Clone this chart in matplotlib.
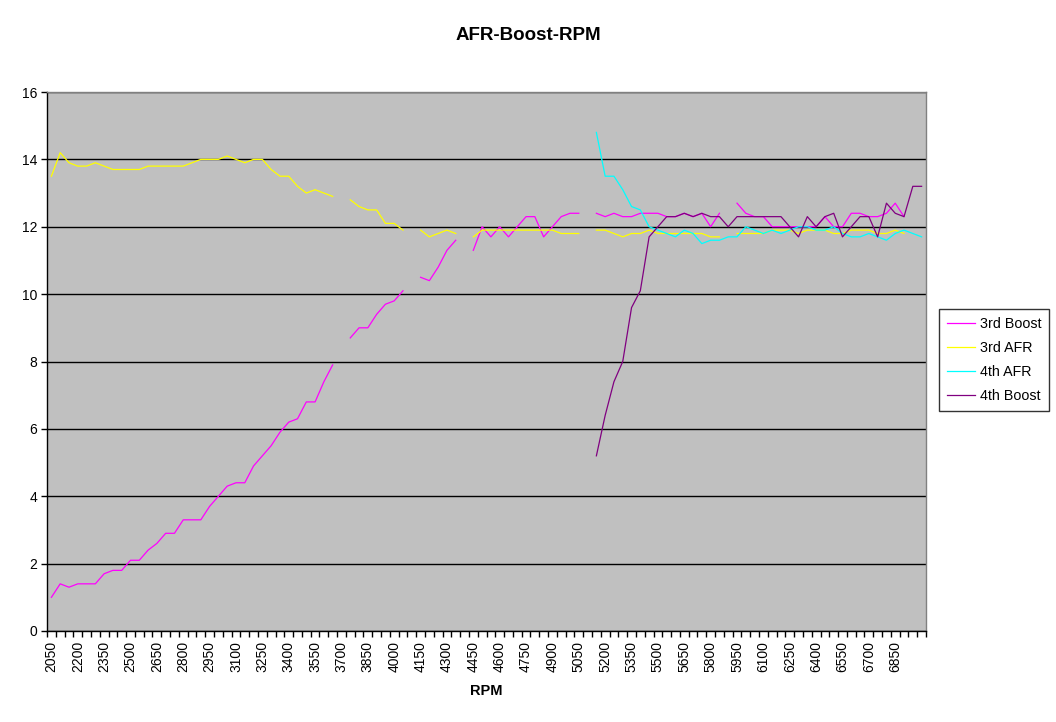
import numpy as np
import matplotlib
matplotlib.use("Agg")
import matplotlib.pyplot as plt

plt.rcParams['font.family'] = ['Liberation Sans', 'DejaVu Sans']

n = np.nan
rpm = list(range(2050, 7001, 50))

boost_3rd = [1.0, 1.4, 1.3, 1.4, 1.4, 1.4, 1.7, 1.8, 1.8, 2.1,
             2.1, 2.4, 2.6, 2.9, 2.9, 3.3, 3.3, 3.3, 3.7, 4.0,
             4.3, 4.4, 4.4, 4.9, 5.2, 5.5, 5.9, 6.2, 6.3, 6.8,
             6.8, 7.4, 7.9, n, 8.7, 9.0, 9.0, 9.4, 9.7, 9.8,
             10.1, n, 10.5, 10.4, 10.8, 11.3, 11.6, n, 11.3, 12.0,
             11.7, 12.0, 11.7, 12.0, 12.3, 12.3, 11.7, 12.0, 12.3, 12.4,
             12.4, n, 12.4, 12.3, 12.4, 12.3, 12.3, 12.4, 12.4, 12.4,
             12.3, 12.3, 12.4, 12.3, 12.4, 12.0, 12.4, n, 12.7, 12.4,
             12.3, 12.3, 12.0, 12.0, 12.0, 12.0, 12.0, 12.0, 12.3, 12.0,
             12.0, 12.4, 12.4, 12.3, 12.3, 12.4, 12.7, 12.3, n, n]

afr_3rd = [13.5, 14.2, 13.9, 13.8, 13.8, 13.9, 13.8, 13.7, 13.7, 13.7,
           13.7, 13.8, 13.8, 13.8, 13.8, 13.8, 13.9, 14.0, 14.0, 14.0,
           14.1, 14.0, 13.9, 14.0, 14.0, 13.7, 13.5, 13.5, 13.2, 13.0,
           13.1, 13.0, 12.9, n, 12.8, 12.6, 12.5, 12.5, 12.1, 12.1,
           11.9, n, 11.9, 11.7, 11.8, 11.9, 11.8, n, 11.7, 11.9,
           11.9, 11.9, 11.9, 11.9, 11.9, 11.9, 11.9, 11.9, 11.8, 11.8,
           11.8, n, 11.9, 11.9, 11.8, 11.7, 11.8, 11.8, 11.9, 11.8,
           11.8, 11.8, 11.8, 11.8, 11.8, 11.7, 11.7, n, 11.8, 11.8,
           11.8, 11.8, 11.9, 11.9, 11.9, 11.8, 11.9, 11.9, 11.9, 11.8,
           11.8, 11.9, 11.9, 11.9, 11.8, 11.8, 11.9, 11.8, n, n]

afr_4th = [n] * 62 + [
           14.8, 13.5, 13.5, 13.1, 12.6, 12.5, 12.0, 11.9,
           11.8, 11.7, 11.9, 11.8, 11.5, 11.6, 11.6, 11.7, 11.7, 12.0,
           11.9, 11.8, 11.9, 11.8, 11.9, 12.0, 12.0, 11.9, 11.9, 12.0,
           11.8, 11.7, 11.7, 11.8, 11.7, 11.6, 11.8, 11.9, 11.8, 11.7]

boost_4th = [n] * 62 + [
             5.2, 6.4, 7.4, 8.0, 9.6, 10.1, 11.7, 12.0,
             12.3, 12.3, 12.4, 12.3, 12.4, 12.3, 12.3, 12.0, 12.3, 12.3,
             12.3, 12.3, 12.3, 12.3, 12.0, 11.7, 12.3, 12.0, 12.3, 12.4,
             11.7, 12.0, 12.3, 12.3, 11.7, 12.7, 12.4, 12.3, 13.2, 13.2]

series = [("3rd Boost", boost_3rd, "#FF00FF"),
          ("3rd AFR", afr_3rd, "#FFFF00"),
          ("4th AFR", afr_4th, "#00FFFF"),
          ("4th Boost", boost_4th, "#800080")]

W, H = 1056, 722
fig = plt.figure(figsize=(W / 100, H / 100), dpi=100)
fig.patch.set_facecolor("white")
l, r, t, b = 47, 926, 92, 631
ax = fig.add_axes([l / W, 1 - b / H, (r - l) / W, (b - t) / H])
ax.set_facecolor("#C0C0C0")

x = np.arange(len(rpm))
for name, vals, col in series:
    ax.plot(x, np.array(vals, dtype=float), color=col, lw=0.9, label=name, zorder=3)

ax.set_xlim(-0.5, len(rpm) - 0.5)
ax.set_ylim(0, 16)
ax.set_yticks(np.arange(0, 17, 2))
ax.yaxis.grid(True, color="black", lw=1.0)
ax.set_axisbelow(True)
ax.tick_params(axis="y", direction="out", length=4, width=1, labelsize=10, pad=3)

major = np.arange(0, 97, 3)
ax.set_xticks(major)
ax.set_xticklabels([str(rpm[i]) for i in major], rotation=90, fontsize=10)
ax.set_xticks(np.arange(-0.5, len(rpm), 1), minor=True)
ax.tick_params(axis="x", which="major", length=0, pad=7)
ax.tick_params(axis="x", which="minor", direction="out", length=4, width=1)

for s in ["left", "bottom"]:
    ax.spines[s].set_color("black")
    ax.spines[s].set_linewidth(1.0)
for s in ["top", "right"]:
    ax.spines[s].set_color("#808080")
    ax.spines[s].set_linewidth(1.0)

ax.set_xlabel("RPM", fontsize=10.5, fontweight="bold", labelpad=9)
fig.text(0.5, 1 - 36 / H, "AFR-Boost-RPM", ha="center", va="center",
         fontsize=13.5, fontweight="bold")

leg = fig.legend(loc="center left", bbox_to_anchor=(939 / W, 1 - 360 / H),
                 fontsize=10.3, frameon=True, fancybox=False, edgecolor="black",
                 handlelength=2.0, handletextpad=0.3, labelspacing=0.72,
                 borderpad=0.55, borderaxespad=0)
leg.get_frame().set_linewidth(1.0)

fig.savefig("out.png", dpi=100)
